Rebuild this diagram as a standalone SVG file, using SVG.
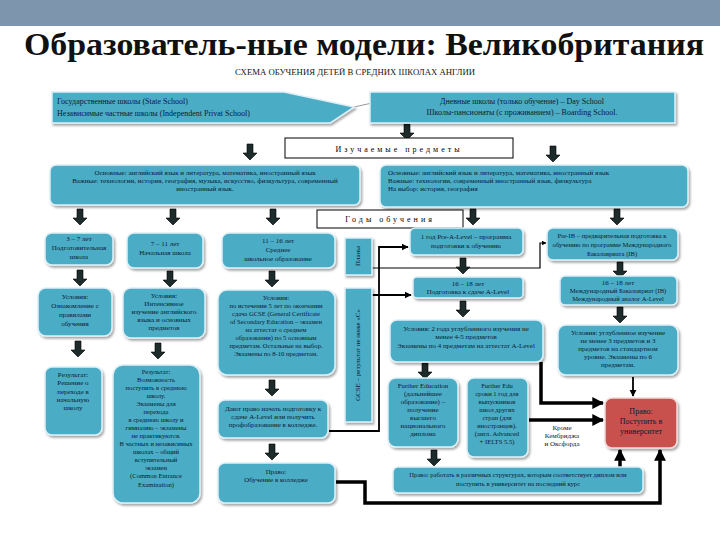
<svg xmlns="http://www.w3.org/2000/svg" width="720" height="540" viewBox="0 0 720 540">
<defs>
<filter id="sh" x="-10%" y="-10%" width="130%" height="140%"><feDropShadow dx="1.5" dy="2" stdDeviation="1.2" flood-color="#000" flood-opacity="0.35"/></filter>
<path id="da" d="M-3,0 H3 V9 H7 L0,16 L-7,9 H-3 Z" fill="#1E2B2B" stroke="#000" stroke-width="0.6"/>
<marker id="ah" viewBox="0 0 10 10" refX="9" refY="5" markerWidth="4" markerHeight="4" orient="auto"><path d="M0,0 L10,5 L0,10 Z" fill="#000"/></marker>
<marker id="ahb" viewBox="0 0 10 10" refX="9" refY="5" markerWidth="3.4" markerHeight="3.4" orient="auto"><path d="M0,0 L10,5 L0,10 Z" fill="#000"/></marker>
<style>
.b{fill:#4BACC6;stroke:#DDF0F6;stroke-width:1.5;filter:url(#sh)}
.w{fill:#fff;stroke:#000;stroke-width:1}
.t{font-family:"Liberation Serif","Times New Roman",serif;font-size:7px;fill:#0d1a33}
.s{font-size:6.6px}
.m{font-size:8px}
.c{text-anchor:middle}
.sp{letter-spacing:3px;font-size:8px;fill:#000}
.ttl{font-family:"Liberation Serif","Times New Roman",serif;font-weight:bold;font-size:32px;fill:#111}
.sub{font-family:"Liberation Serif","Times New Roman",serif;font-size:8px;fill:#111}
.ln{fill:none;stroke:#000;stroke-width:1.8}
.lt{fill:none;stroke:#000;stroke-width:3.5}
</style>
</defs>
<rect x="0" y="0" width="720" height="26" fill="#7D96AD"/>
<text class="ttl" x="364" y="55" text-anchor="middle" textLength="680" lengthAdjust="spacingAndGlyphs">Образователь-ные модели: Великобритания</text>
<text class="sub" x="355" y="75" text-anchor="middle" textLength="240" lengthAdjust="spacingAndGlyphs">СХЕМА ОБУЧЕНИЯ ДЕТЕЙ В СРЕДНИХ ШКОЛАХ АНГЛИИ</text>

<g id="connectors">
<line x1="354" y1="107" x2="372" y2="103" stroke="#999" stroke-width="1"/>
<path class="ln" d="M329,431 H379 V247 H408" marker-end="url(#ah)"/>
<path class="ln" d="M372,295 H411" marker-end="url(#ah)"/>
<path fill="none" stroke="#000" stroke-width="1.2" d="M372,268 H540 V243 H546" marker-end="url(#ah)"/>
<path class="lt" d="M541,362 V403 H603" marker-end="url(#ahb)"/>
<path class="lt" d="M529,420 H603" marker-end="url(#ahb)"/>
<path class="lt" d="M620,467 V450" marker-end="url(#ahb)"/>
<path class="lt" d="M336,482 H365 V503 H660 V450" marker-end="url(#ahb)"/>
<path class="ln" d="M633,377 V396" marker-end="url(#ah)"/>
<use href="#da" x="250" y="144"/>
<use href="#da" x="407" y="124"/>
<use href="#da" x="553" y="146"/>
<use href="#da" x="80" y="209"/>
<use href="#da" x="173" y="209"/>
<use href="#da" x="273" y="209"/>
<use href="#da" x="473" y="209"/>
<use href="#da" x="617" y="209"/>
<use href="#da" x="80" y="270"/>
<use href="#da" x="170" y="271"/>
<use href="#da" x="272" y="271"/>
<use href="#da" x="78" y="341"/>
<use href="#da" x="158" y="343"/>
<use href="#da" x="272" y="380"/>
<use href="#da" x="272" y="444"/>
<use href="#da" x="463" y="258"/>
<use href="#da" x="463" y="301"/>
<use href="#da" x="425" y="363"/>
<use href="#da" x="434" y="450"/>
<use href="#da" x="620" y="262"/>
<use href="#da" x="620" y="307"/>
</g>

<g id="n-state">
<polygon class="b" points="52,92 284,92 354,107 330,123 52,123"/>
<text class="t m" x="57" y="104">Государственные школы (State School)</text>
<text class="t m" x="57" y="116">Независимые частные школы (Independent Privat School)</text>
</g>
<g id="n-day">
<rect class="b" x="370" y="92" width="305" height="31"/>
<text class="t m c" x="522" y="104">Дневные школы (только обучение) – Day School</text>
<text class="t m c" x="522" y="115">Школы-пансионаты (с проживанием) – Boarding School.</text>
</g>
<g id="n-subj-label">
<rect class="w" x="285" y="138" width="228" height="20"/>
<text class="t sp c" x="399" y="152">Изучаемые предметы</text>
</g>
<g id="n-subj-left">
<rect class="b" x="50" y="165" width="310" height="40" rx="6"/>
<text class="t c" x="205" y="175">Основные: английский язык и литература, математика, иностранный язык</text>
<text class="t c" x="205" y="183">Важные: технологии, история, география, музыка, искусство, физкультура, современный</text>
<text class="t c" x="205" y="191">иностранный язык.</text>
</g>
<g id="n-subj-right">
<rect class="b" x="380" y="165" width="308" height="42" rx="6"/>
<text class="t" x="388" y="175">Основные: английский язык и литература, математика, иностранный язык</text>
<text class="t" x="388" y="183">Важные: технологии, современный иностранный язык, физкультура</text>
<text class="t" x="388" y="191">На выбор: история, география</text>
</g>
<g id="n-years">
<rect class="w" x="317" y="210" width="146" height="18"/>
<text class="t sp c" x="390" y="222">Годы обучения</text>
</g>

<g id="n-a">
<rect class="b" x="45" y="233" width="68" height="32" rx="7"/>
<text class="t c" x="79" y="241">3 – 7 лет</text>
<text class="t c" x="79" y="250">Подготовительная</text>
<text class="t c" x="79" y="259">школа</text>
</g>
<g id="n-b">
<rect class="b" x="127" y="233" width="76" height="35" rx="7"/>
<text class="t c" x="165" y="246">7 – 11 лет</text>
<text class="t c" x="165" y="255">Начальная школа</text>
</g>
<g id="n-c">
<rect class="b" x="222" y="233" width="113" height="35" rx="7"/>
<text class="t c" x="278" y="243">11 – 16 лет</text>
<text class="t c" x="278" y="252">Среднее</text>
<text class="t c" x="278" y="261">школьное образование</text>
</g>
<g id="n-d">
<rect class="b" x="38" y="288" width="74" height="48" rx="8"/>
<text class="t c" x="75" y="299">Условия:</text>
<text class="t c" x="75" y="308">Ознакомление с</text>
<text class="t c" x="75" y="317">правилами</text>
<text class="t c" x="75" y="326">обучения</text>
</g>
<g id="n-e">
<rect class="b" x="123" y="288" width="82" height="50" rx="8"/>
<text class="t c" x="164" y="298">Условия:</text>
<text class="t c" x="164" y="306">Интенсивное</text>
<text class="t c" x="164" y="314">изучение английского</text>
<text class="t c" x="164" y="322">языка и основных</text>
<text class="t c" x="164" y="330">предметов</text>
</g>
<g id="n-f">
<rect class="b" x="218" y="290" width="117" height="85" rx="9"/>
<text class="t c" x="276" y="300">Условия:</text>
<text class="t s c" x="276" y="308">по истечении 5 лет по окончании</text>
<text class="t s c" x="276" y="316">сдача GCSE (General Certificate</text>
<text class="t s c" x="276" y="324">of Secondary Education – экзамен</text>
<text class="t s c" x="276" y="332">на аттестат о среднем</text>
<text class="t s c" x="276" y="340">образовании) по 5 основным</text>
<text class="t s c" x="276" y="348">предметам. Остальные на выбор.</text>
<text class="t s c" x="276" y="356">Экзамены по 8-10 предметам.</text>
</g>
<g id="n-g">
<rect class="b" x="45" y="367" width="57" height="68" rx="7"/>
<text class="t c" x="73" y="377">Результат:</text>
<text class="t c" x="73" y="385">Решение о</text>
<text class="t c" x="73" y="394">переходе в</text>
<text class="t c" x="73" y="402">начальную</text>
<text class="t c" x="73" y="410">школу</text>
</g>
<g id="n-h">
<rect class="b" x="113" y="365" width="87" height="138" rx="10"/>
<text class="t s c" x="156" y="374">Результат:</text>
<text class="t s c" x="156" y="382">Возможность</text>
<text class="t s c" x="156" y="390">поступить в среднюю</text>
<text class="t s c" x="156" y="398">школу.</text>
<text class="t s c" x="156" y="406">Экзамены для</text>
<text class="t s c" x="156" y="414">перехода</text>
<text class="t s c" x="156" y="422">в среднюю школу и</text>
<text class="t s c" x="156" y="430">гимназию – экзамены</text>
<text class="t s c" x="156" y="438">не практикуются.</text>
<text class="t s c" x="156" y="446">В частных и независимых</text>
<text class="t s c" x="156" y="454">школах – общий</text>
<text class="t s c" x="156" y="462">вступительный</text>
<text class="t s c" x="156" y="470">экзамен</text>
<text class="t s c" x="156" y="478">(Common Entrance</text>
<text class="t s c" x="156" y="487">Examination)</text>
</g>
<g id="n-i">
<rect class="b" x="218" y="400" width="110" height="38" rx="7"/>
<text class="t c" x="273" y="411">Дают право начать подготовку к</text>
<text class="t c" x="273" y="419">сдаче A-Level или получить</text>
<text class="t c" x="273" y="427">профобразование в колледже.</text>
</g>
<g id="n-j">
<rect class="b" x="218" y="463" width="117" height="40" rx="7"/>
<text class="t c" x="276" y="474">Право:</text>
<text class="t c" x="276" y="482">Обучение в колледже</text>
</g>
<g id="n-v1">
<rect class="b" x="345" y="238" width="27" height="37"/>
<text class="t c" transform="translate(360,256) rotate(-90)" x="0" y="0">Планы</text>
</g>
<g id="n-v2">
<rect class="b" x="345" y="288" width="27" height="134"/>
<text class="t c" transform="translate(360,355) rotate(-90)" x="0" y="0">GCSE – результат не ниже «С»</text>
</g>

<g id="n-r1">
<rect class="b" x="410" y="228" width="113" height="27" rx="5"/>
<text class="t c" x="466" y="239">1 год Pre-A-Level – программа</text>
<text class="t c" x="466" y="248">подготовки к обучению</text>
</g>
<g id="n-r2">
<rect class="b" x="413" y="277" width="110" height="21" rx="4"/>
<text class="t c" x="468" y="286">16 – 18 лет</text>
<text class="t c" x="468" y="294">Подготовка к сдаче A-Level</text>
</g>
<g id="n-r3">
<rect class="b" x="390" y="320" width="153" height="42" rx="7"/>
<text class="t c" x="466" y="331">Условия: 2 года углубленного изучения не</text>
<text class="t c" x="466" y="339">менее 4-5 предметов</text>
<text class="t c" x="466" y="348">Экзамены по 4 предметам на аттестат A-Level</text>
</g>
<g id="n-r4">
<rect class="b" x="388" y="378" width="70" height="69" rx="8"/>
<text class="t c" x="423" y="388">Further Education</text>
<text class="t c" x="423" y="396">(дальнейшее</text>
<text class="t c" x="423" y="404">образование) –</text>
<text class="t c" x="423" y="412">получение</text>
<text class="t c" x="423" y="420">высшего</text>
<text class="t c" x="423" y="428">национального</text>
<text class="t c" x="423" y="436">диплома</text>
</g>
<g id="n-r5">
<rect class="b" x="467" y="378" width="61" height="79" rx="7"/>
<text class="t s c" x="497" y="388">Further Edu</text>
<text class="t s c" x="497" y="396">сроки 1 год для</text>
<text class="t s c" x="497" y="404">выпускников</text>
<text class="t s c" x="497" y="412">школ других</text>
<text class="t s c" x="497" y="420">стран (для</text>
<text class="t s c" x="497" y="428">иностранцев).</text>
<text class="t s c" x="497" y="436">(англ. Advanced</text>
<text class="t s c" x="497" y="444">+ IELTS 5.5)</text>
</g>
<g id="n-r6">
<rect class="b" x="393" y="467" width="250" height="26" rx="5"/>
<text class="t s c" x="518" y="477">Право: работать в различных структурах, которым соответствует диплом или</text>
<text class="t s c" x="518" y="486">поступить в университет на последний курс</text>
</g>
<g id="n-p1">
<rect class="b" x="547" y="228" width="131" height="32" rx="6"/>
<text class="t s c" x="612" y="238">Pre-IB – предварительная подготовка к</text>
<text class="t s c" x="612" y="247">обучению по программе Международного</text>
<text class="t s c" x="612" y="256">Бакалавриата (IB)</text>
</g>
<g id="n-p2">
<rect class="b" x="560" y="276" width="117" height="29" rx="5"/>
<text class="t c" x="618" y="285">16 – 18 лет</text>
<text class="t s c" x="618" y="293">Международный Бакалавриат (IB)</text>
<text class="t s c" x="618" y="301">Международный аналог A-Level</text>
</g>
<g id="n-p3">
<rect class="b" x="558" y="325" width="120" height="50" rx="8"/>
<text class="t c" x="618" y="335">Условия: углубленное изучение</text>
<text class="t c" x="618" y="343">не менее 3 предметов и 3</text>
<text class="t c" x="618" y="351">предметов на стандартном</text>
<text class="t c" x="618" y="359">уровне. Экзамены по 6</text>
<text class="t c" x="618" y="367">предметам.</text>
</g>
<g id="n-uni">
<rect x="605" y="398" width="72" height="50" rx="7" fill="#C9514D" stroke="#F0DADA" stroke-width="1.5" filter="url(#sh)"/>
<text class="t m c" x="641" y="414">Право:</text>
<text class="t m c" x="641" y="424">Поступить в</text>
<text class="t m c" x="641" y="434">университет</text>
</g>
<g id="lbl-oxbridge">
<text class="t c" x="562" y="430">Кроме</text>
<text class="t c" x="562" y="438">Кембриджа</text>
<text class="t c" x="562" y="446">и Оксфорда</text>
</g>
</svg>
